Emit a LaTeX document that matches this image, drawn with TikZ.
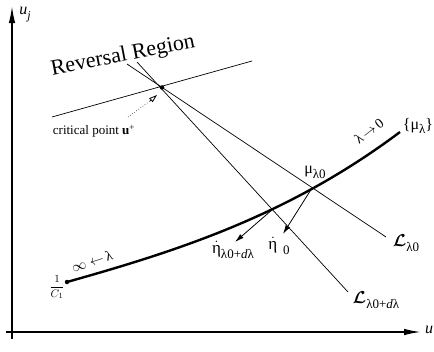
\documentclass[tikz,border=0pt]{standalone}
\usepackage{amsmath}
\usepackage{fontspec}
\setmainfont{Liberation Serif}
\usetikzlibrary{arrows.meta}
\newcommand{\fs}[1]{\fontsize{#1}{#1}\selectfont}
\newcommand{\etadot}{$\dot{\hbox{η}}$}
\newcommand{\lowsub}[1]{\raisebox{-0.3em}{\fs{13}#1}}
\newcommand{\calL}{{\fs{18}$\boldsymbol{\mathcal{L}}$}}
\begin{document}
\begin{tikzpicture}[x=1pt,y=-1pt,
  axis/.style={line width=1.6pt,-{Latex[length=17pt,width=6.5pt]}},
  thin/.style={line width=0.7pt},
  curvestyle/.style={line width=2.4pt},
  vecarrow/.style={line width=0.8pt,-{Latex[length=9pt,width=5pt]}},
  lbl/.style={inner sep=0pt,font=\fs{16}},
  dotpt/.style={circle,fill=black,inner sep=0pt,minimum size=4.5pt}]
\useasboundingbox (0,0) rectangle (434,351);
% axes
\coordinate (o1) at (12,339);
\coordinate (yt) at (12,6);
\coordinate (o2) at (6,332);
\coordinate (xt) at (421,332);
\draw[axis] (o1) -- (yt);
\draw[axis] (o2) -- (xt);
\node[lbl,font=\fs{16}] (uj) at (25,15) {\textit{u}\raisebox{-0.3em}{\fs{12}\textit{j}}};
\node[lbl,font=\fs{16}] (ux) at (429,330) {\textit{u}};
% reversal region
\coordinate (rl1) at (52,117);
\coordinate (rl2) at (252,61);
\draw[thin] (rl1) -- (rl2);
\node[lbl,font=\fs{22},rotate=11] (rr) at (123,56) {Reversal Region};
% lines through the critical point
\coordinate (l0a) at (127,64);
\coordinate (l0b) at (386,237);
\coordinate (lda) at (137,62);
\coordinate (ldb) at (348,292);
\draw[thin] (l0a) -- (l0b);
\draw[thin] (lda) -- (ldb);
% curve
\coordinate (c0) at (67,282);
\coordinate (c1) at (400,132);
\draw[curvestyle] (c0) .. controls (177,251) and (288,216) .. (c1);
\node[dotpt] (start) at (c0) {};
\node[dotpt] (cp) at (162,87.5) {};
% critical point label
\node[lbl,font=\fs{13}] (cpl) at (94,131) {critical point \textbf{u}\textsuperscript{+}};
\coordinate (dstart) at (128,117);
\draw[line width=0.6pt,dotted] (dstart) -- (150,101);
\coordinate (dtip) at (157,95);
\draw[line width=0.8pt,-{Triangle[open,length=8pt,width=5pt]}] (150,101) -- (dtip);
% vectors
\coordinate (m0) at (312,188);
\coordinate (md) at (273,209);
\coordinate (e0) at (283,234);
\coordinate (ed) at (235,242);
\draw[vecarrow] (m0) -- (e0);
\draw[vecarrow] (md) -- (ed);
% labels
\node[lbl] (mu0) at (315,172) {μ\lowsub{λ0}};
\node[lbl] (mul) at (418,126) {\{μ\lowsub{λ}\}};
\node[lbl,font=\fs{14},rotate=38] (lz) at (369,131) {λ\,$\rightarrow$\,0};
\node[lbl,font=\fs{14},rotate=18] (li) at (92,261) {$\infty\leftarrow$\,λ};
\node[lbl,font=\fs{11}] (c1l) at (57,287) {$\dfrac{1}{C_1}$};
\node[lbl,font=\fs{17}] (etad) at (233,250) {\etadot\lowsub{λ0+\textit{d}λ}};
\node[lbl,font=\fs{17}] (eta0) at (279,246) {\etadot\,\,\lowsub{0}};
\node[lbl] (L0) at (406,243) {\calL\lowsub{λ0}};
\node[lbl] (Ld) at (376,300) {\calL\lowsub{λ0+\textit{d}λ}};
\end{tikzpicture}
\end{document}
